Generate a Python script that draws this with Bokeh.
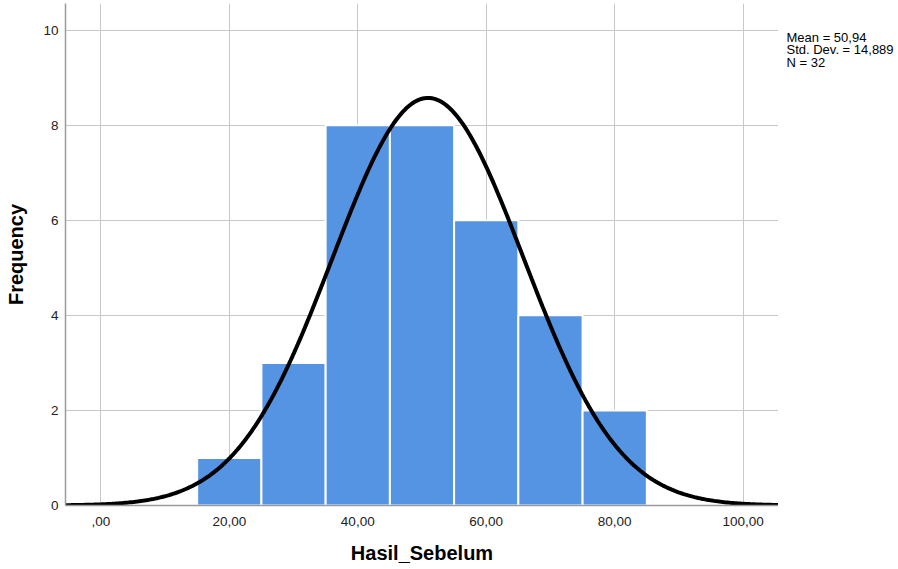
import numpy as np
from bokeh.plotting import figure
from bokeh.layouts import row
from bokeh.models import Range1d, FixedTicker, ColumnDataSource
from bokeh.core.properties import value
from bokeh.embed import file_html
from bokeh.resources import INLINE

# ---- data ----
bin_left = [15, 25, 35, 45, 55, 65, 75]
bin_right = [25, 35, 45, 55, 65, 75, 85]
frequency = [1, 3, 8, 8, 6, 4, 2]

mean_val = 50.94
std_val = 14.889
n_val = 32
bin_width = 10

x_ticks = [0, 20, 40, 60, 80, 100]
x_tick_labels = [",00", "20,00", "40,00", "60,00", "80,00", "100,00"]
y_ticks = [0, 2, 4, 6, 8, 10]
stats_lines = ["Mean = 50,94", "Std. Dev. = 14,889", "N = 32"]

FONT = "Liberation Sans"

p = figure(frame_width=713, frame_height=502, output_backend="svg", toolbar_location=None,
           x_range=Range1d(-5.5, 105.5), y_range=Range1d(0, 10.56),
           min_border_left=65, min_border_right=0, min_border_top=3, min_border_bottom=0)
p.outline_line_color = None
p.background_fill_color = "white"
p.border_fill_color = "white"

# bars
src = ColumnDataSource(dict(left=bin_left, right=bin_right, top=frequency,
                            bottom=[0] * len(frequency)))
p.quad(left="left", right="right", top="top", bottom="bottom", source=src,
       fill_color="#5593E3", line_color="white", line_width=2)

# normal curve from the chart's stated mean / sd / N
xs = np.linspace(-5.5, 105.5, 400)
ys = n_val * bin_width / (std_val * np.sqrt(2 * np.pi)) * np.exp(-0.5 * ((xs - mean_val) / std_val) ** 2)
p.line(xs, ys, line_color="black", line_width=4)

# axes
p.xaxis.ticker = FixedTicker(ticks=x_ticks)
p.xaxis.major_label_overrides = {t: l for t, l in zip(x_ticks, x_tick_labels)}
p.yaxis.ticker = FixedTicker(ticks=y_ticks)
for ax in (p.xaxis, p.yaxis):
    ax.major_tick_line_color = None
    ax.minor_tick_line_color = None
    ax.major_tick_out = 0
    ax.major_tick_in = 0
    ax.minor_tick_out = 0
    ax.minor_tick_in = 0
    ax.axis_line_color = "#9a9a9a"
    ax.axis_line_width = 1.5
    ax.major_label_text_font = FONT
    ax.major_label_text_font_size = "13.5px"
    ax.major_label_text_color = "#222222"
    ax.major_label_text_line_height = 1.0
    ax.axis_label_text_font = FONT
    ax.axis_label_text_font_size = "20px"
    ax.axis_label_text_font_style = "bold"
    ax.axis_label_text_color = "black"
    ax.axis_label_text_line_height = 1.0
p.xaxis.axis_label = "Hasil_Sebelum"
p.yaxis.axis_label = "Frequency"
p.xaxis.major_label_standoff = 11
p.xaxis.axis_label_standoff = 13
p.yaxis.major_label_standoff = 7
p.yaxis.axis_label_standoff = 13

p.xgrid.ticker = FixedTicker(ticks=x_ticks)
p.ygrid.ticker = FixedTicker(ticks=y_ticks)
p.grid.grid_line_color = "#c8c8c8"
p.grid.grid_line_width = 1

# stats text panel to the right
TW, TH = 118, 560
t = figure(width=TW, height=TH, output_backend="svg", toolbar_location=None,
           x_range=Range1d(0, TW), y_range=Range1d(0, TH),
           x_axis_type=None, y_axis_type=None,
           min_border_left=0, min_border_right=0, min_border_top=0, min_border_bottom=0)
t.outline_line_color = None
t.grid.visible = False
t.text(x=[8, 8, 8], y=[TH - 30, TH - 30 - 14, TH - 30 - 28], text=stats_lines,
       text_font=value(FONT), text_font_size=value("13px"), text_color="black",
       text_baseline="top", text_align="left")

open("out.html", "w").write(file_html(row(p, t), INLINE))
